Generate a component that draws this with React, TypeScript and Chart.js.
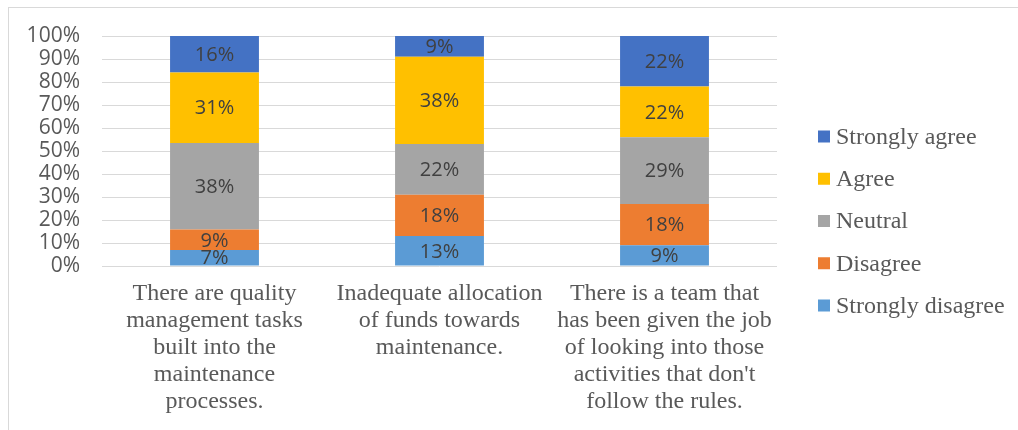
import React, { useEffect, useRef } from "react";
import { Chart, registerables } from "chart.js";

Chart.register(...registerables);

const categories: string[][] = [
  ["There are quality", "management tasks", "built into the", "maintenance", "processes."],
  ["Inadequate allocation", "of funds towards", "maintenance."],
  ["There is a team that", "has been given the job", "of looking into those", "activities that don't", "follow the rules."],
];

const seriesNames = ["Strongly disagree", "Disagree", "Neutral", "Agree", "Strongly agree"];
const seriesColors = ["#5B9BD5", "#ED7D31", "#A5A5A5", "#FFC000", "#4472C4"];

// Percentages as printed on the bars
const stronglyDisagree = [7, 13, 9];
const disagree = [9, 18, 18];
const neutral = [38, 22, 29];
const agree = [31, 38, 22];
const stronglyAgree = [16, 9, 22];

const yTicks = [0, 10, 20, 30, 40, 50, 60, 70, 80, 90, 100];

const allSeries = [stronglyDisagree, disagree, neutral, agree, stronglyAgree];

const labelPlugin = {
  id: "segLabels",
  afterDatasetsDraw(chart: any) {
    const ctx = chart.ctx;
    ctx.save();
    ctx.font = "20px 'Open Sans'";
    ctx.fillStyle = "#404040";
    ctx.textAlign = "center";
    ctx.textBaseline = "middle";
    chart.data.datasets.forEach((ds: any, di: number) => {
      const meta = chart.getDatasetMeta(di);
      meta.data.forEach((el: any, i: number) => {
        const raw = ds.rawPct[i];
        const y = (el.y + el.base) / 2;
        ctx.fillText(raw + "%", el.x, y + 1);
      });
    });
    ctx.restore();
  },
};

// Legend drawn to the right of the plot, reversed order (top = last series)
const legendPlugin = {
  id: "sideLegend",
  afterDraw(chart: any) {
    const ctx = chart.ctx;
    const ds = chart.data.datasets;
    const n = ds.length;
    const step = 42.25;
    const centerY = 221 - 8;
    const boxX = chart.chartArea.right + 41;
    ctx.save();
    ctx.font = "24px 'Liberation Serif'";
    ctx.textAlign = "left";
    ctx.textBaseline = "middle";
    for (let j = 0; j < n; j++) {
      const d = ds[n - 1 - j];
      const cy = centerY + (j - (n - 1) / 2) * step;
      ctx.fillStyle = d.backgroundColor;
      ctx.fillRect(boxX, cy - 6, 12, 12);
      ctx.fillStyle = "#595959";
      ctx.fillText(d.label, boxX + 18, cy + 1);
    }
    ctx.restore();
  },
};

export default function App() {
  const ref = useRef<HTMLCanvasElement>(null);
  useEffect(() => {
    if (!ref.current) return;
    const totals = categories.map((_, i) => allSeries.reduce((s, a) => s + a[i], 0));
    const chart = new Chart(ref.current, {
      type: "bar",
      data: {
        labels: categories as any,
        datasets: allSeries.map((vals, k) => ({
          label: seriesNames[k],
          data: vals.map((v, i) => (v / totals[i]) * 100),
          rawPct: vals,
          backgroundColor: seriesColors[k],
          borderWidth: 0,
          barPercentage: 0.395,
          categoryPercentage: 1,
        })) as any,
      },
      options: {
        responsive: false,
        animation: false,
        layout: { padding: { left: 0, right: 241, top: 28, bottom: 0 } },
        plugins: {
          tooltip: { enabled: false },
          legend: { display: false },
        },
        scales: {
          x: {
            stacked: true,
            grid: { display: false, drawTicks: false },
            border: { display: false },
            ticks: {
              color: "#595959",
              padding: 14,
              maxRotation: 0,
              autoSkip: false,
              font: { family: "'Liberation Serif'", size: 24, lineHeight: 1.125 },
            },
            afterFit(scale: any) {
              scale.height = 164;
            },
          },
          y: {
            stacked: true,
            min: 0,
            max: 100,
            grid: { color: "#d9d9d9", drawTicks: false },
            border: { display: false },
            afterBuildTicks(scale: any) {
              scale.ticks = yTicks.map((v) => ({ value: v }));
            },
            ticks: {
              color: "#595959",
              padding: 22,
              autoSkip: false,
              font: { family: "'Open Sans'", size: 21 },
              callback: (v: any) => v + "%",
            },
            afterFit(scale: any) {
              scale.width = 93;
              scale.paddingTop = 0;
              scale.paddingBottom = 0;
            },
          },
        },
      },
      plugins: [labelPlugin, legendPlugin],
    });
    return () => chart.destroy();
  }, []);
  return (
    <div
      style={{
        position: "absolute",
        left: 8,
        top: 7,
        width: 1010,
        height: 423,
        borderLeft: "1px solid #d9d9d9",
        borderTop: "1px solid #d9d9d9",
        boxSizing: "border-box",
        background: "#fff",
      }}
    >
      <canvas ref={ref} width={1009} height={422} style={{ display: "block" }} />
    </div>
  );
}
